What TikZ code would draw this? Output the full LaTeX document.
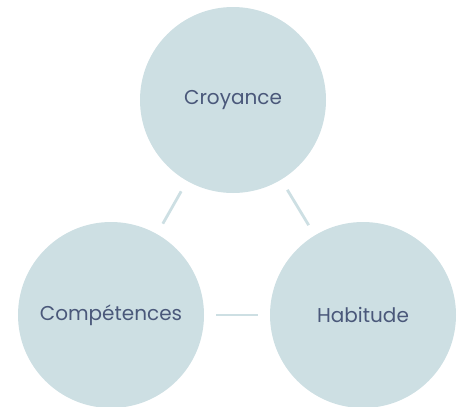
\documentclass[tikz,border=0pt]{standalone}
\usepackage{fontspec}
\setmainfont{Poppins}
\usepackage{tikz}
\usetikzlibrary{positioning, calc}

\definecolor{bubblefill}{RGB}{205,223,227}
\definecolor{bubbletext}{RGB}{74,88,122}

\begin{document}
\begin{tikzpicture}[x=1pt, y=1pt, font=\fontsize{20}{24}\selectfont,
    bubble/.style={circle, fill=bubblefill, draw=none, minimum size=186pt,
      inner sep=0pt, outer sep=0pt, text=bubbletext},
    link/.style={draw=bubblefill, line width=2.8pt, shorten <=12pt, shorten >=12pt}]
  \useasboundingbox (0,0) rectangle (466,-407);

  % --- The three bubbles (explicit coords)
  \node[bubble] (croyance)    at (233,-100) {Croyance};
  \node[bubble] (competences) at (111,-315) {Compétences};
  \node[bubble] (habitude)    at (363,-315) {Habitude};

  % --- Links between bubbles
  \draw[link] (croyance) -- (competences);
  \draw[link] (croyance) -- (habitude);
  \draw[link] (competences) -- (habitude);
\end{tikzpicture}
\end{document}
